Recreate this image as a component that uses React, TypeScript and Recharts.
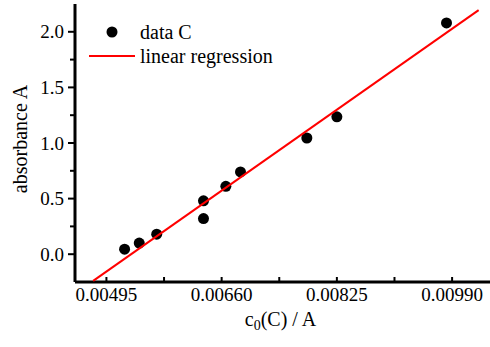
import React from 'react';
import { ScatterChart, Scatter, XAxis, YAxis, Legend } from 'recharts';

// measured points (concentration vs absorbance)
const concC = [0.00521, 0.00542, 0.00567, 0.00634, 0.00634, 0.00666, 0.00687, 0.00782, 0.00825, 0.00982];
const absC = [0.045, 0.1, 0.18, 0.48, 0.32, 0.61, 0.74, 1.045, 1.235, 2.08];

// regression line end points
const fitX = [0.00476, 0.01028];
const fitY = [-0.24, 2.195];

const xMajor = [0.00495, 0.0066, 0.00825, 0.0099];
const xMinor = [0.005775, 0.007425, 0.009075];
const yMajor = [0, 0.5, 1, 1.5, 2];
const yMinor = [0.25, 0.75, 1.25, 1.75];

const legendNames = ['data C', 'linear regression'];

const points = concC.map((x, i) => ({ x, y: absC[i] }));
const fitLine = fitX.map((x, i) => ({ x, y: fitY[i] }));

const xTicks = [...xMajor, ...xMinor].sort((a, b) => a - b);
const yTicks = [...yMajor, ...yMinor].sort((a, b) => a - b);

const FONT = '"Liberation Serif", "Times New Roman", serif';
const isMajor = (list: number[], v: number) => list.some((m) => Math.abs(m - v) < 1e-9);

const LeftTick = (p: any) => {
  const { x, y, payload } = p;
  const major = isMajor(yMajor, payload.value);
  return (
    <g>
      <line x1={x - (major ? 7 : 5)} x2={x} y1={y} y2={y} stroke="#000" strokeWidth={2} />
      {major && (
        <text x={x - 11} y={y} dy="0.35em" textAnchor="end" fontFamily={FONT} fontSize={19} fill="#000">
          {payload.value.toFixed(1)}
        </text>
      )}
    </g>
  );
};

const RightTick = (p: any) => {
  const { x, y } = p;
  return <line x1={x - 7} x2={x} y1={y} y2={y} stroke="#000" strokeWidth={2} />;
};

const BottomTick = (p: any) => {
  const { x, y, payload } = p;
  const major = isMajor(xMajor, payload.value);
  return (
    <g>
      <line x1={x} x2={x} y1={y} y2={y - 5} stroke="#000" strokeWidth={2} />
      {major && (
        <text x={x} y={y + 18.5} textAnchor="middle" fontFamily={FONT} fontSize={19} fill="#000">
          {payload.value.toFixed(5)}
        </text>
      )}
    </g>
  );
};

const TopTick = (p: any) => {
  const { x, y } = p;
  return <line x1={x} x2={x} y1={y} y2={y + 5} stroke="#000" strokeWidth={2} />;
};

const XLabel = (p: any) => {
  const vb = p.viewBox;
  return (
    <text x={vb.x + vb.width / 2 - 4} y={vb.y + 44} textAnchor="middle" fontFamily={FONT} fontSize={20} fill="#000">
      c<tspan dy={4} fontSize={14}>0</tspan>
      <tspan dy={-4}>(C) / A</tspan>
    </text>
  );
};

const YLabel = (p: any) => {
  const vb = p.viewBox;
  const cx = vb.x + 27;
  const cy = vb.y + vb.height / 2 - 4;
  return (
    <text x={cx} y={cy} transform={`rotate(-90 ${cx} ${cy})`} textAnchor="middle" fontFamily={FONT} fontSize={20} fill="#000">
      absorbance A
    </text>
  );
};

const LegendBox = () => (
  <div style={{ fontFamily: FONT, fontSize: 20, color: '#000' }}>
    {legendNames.map((name, i) => (
      <div key={name} style={{ display: 'flex', alignItems: 'center', height: 24 }}>
        <svg width={52} height={24}>
          {i === 0 ? (
            <circle cx={24} cy={12} r={5.5} fill="#000" />
          ) : (
            <line x1={1} x2={47} y1={12} y2={12} stroke="#ff0000" strokeWidth={2} />
          )}
        </svg>
        <span style={{ lineHeight: '24px' }}>{name}</span>
      </div>
    ))}
  </div>
);

const Dot = (p: any) => <circle cx={p.cx} cy={p.cy} r={5.5} fill="#000" />;

export default function App() {
  return (
    <div style={{ position: 'absolute', left: 0, top: 0, width: 490, height: 347, overflow: 'hidden', background: '#fff' }}>
      <ScatterChart width={500} height={347} margin={{ top: 4, right: 6, bottom: 0, left: 0 }}>
        <XAxis
          type="number"
          dataKey="x"
          domain={[0.0045, 0.0105]}
          allowDataOverflow
          ticks={xTicks}
          interval={0}
          height={65}
          tickSize={0}
          tickMargin={0}
          tickLine={false}
          tick={BottomTick}
          axisLine={{ stroke: '#000', strokeWidth: 3 }}
          label={XLabel}
        />
        <XAxis
          xAxisId="top"
          orientation="top"
          type="number"
          dataKey="x"
          domain={[0.0045, 0.0105]}
          allowDataOverflow
          ticks={xTicks}
          interval={0}
          height={0}
          tickSize={0}
          tickMargin={0}
          tickLine={false}
          tick={TopTick}
          axisLine={{ stroke: '#000', strokeWidth: 2 }}
        />
        <YAxis
          type="number"
          dataKey="y"
          domain={[-0.25, 2.25]}
          allowDataOverflow
          ticks={yTicks}
          interval={0}
          width={75}
          tickSize={0}
          tickMargin={0}
          tickLine={false}
          tick={LeftTick}
          axisLine={{ stroke: '#000', strokeWidth: 3 }}
          label={YLabel}
        />
        <YAxis
          yAxisId="right"
          orientation="right"
          type="number"
          dataKey="y"
          domain={[-0.25, 2.25]}
          allowDataOverflow
          ticks={yMajor}
          interval={0}
          width={0}
          tickSize={0}
          tickMargin={0}
          tickLine={false}
          tick={RightTick}
          axisLine={{ stroke: '#000', strokeWidth: 3 }}
        />
        <Legend
          layout="vertical"
          align="center"
          verticalAlign="middle"
          content={LegendBox}
          wrapperStyle={{ position: 'absolute', left: 88, top: 20, width: 'auto', height: 'auto' }}
        />
        <Scatter name={legendNames[0]} data={points} shape={Dot} isAnimationActive={false} />
        <Scatter
          name={legendNames[1]}
          data={fitLine}
          line={{ stroke: '#ff0000', strokeWidth: 2 }}
          shape={() => <g />}
          isAnimationActive={false}
        />
      </ScatterChart>
    </div>
  );
}
